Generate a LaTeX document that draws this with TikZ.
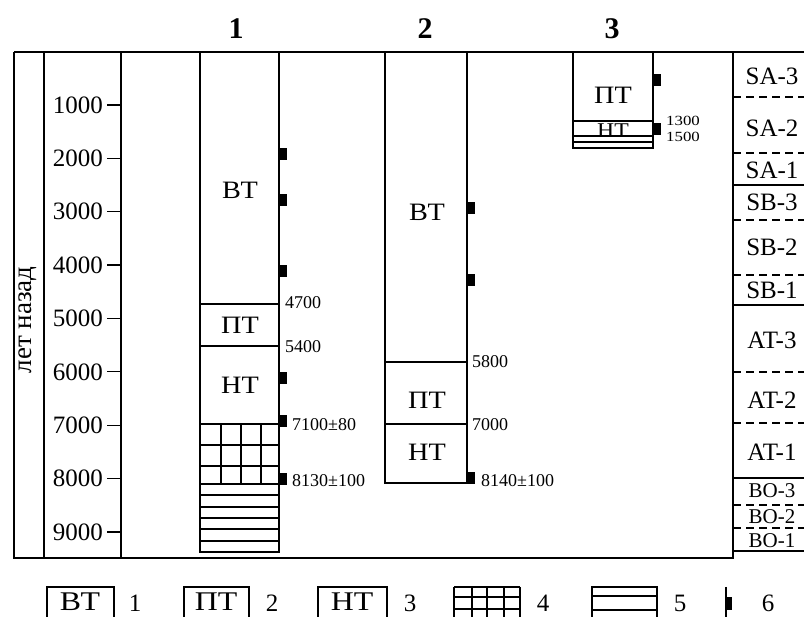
\documentclass[tikz,border=0pt]{standalone}
\usepackage{fontspec}
\usepackage{graphicx}
\setmainfont{Liberation Serif}
\newcommand{\widetxt}[1]{\scalebox{1.13}[1]{#1}}
\begin{document}
\begin{tikzpicture}[x=1pt,y=-1pt,
  ln/.style={line width=1.3pt},
  dsh/.style={line width=1.1pt, dash pattern=on 8pt off 5pt},
  big/.style={font=\fontsize{25}{27}\selectfont, inner sep=0pt},
  leg/.style={font=\fontsize{27}{29}\selectfont, inner sep=0pt},
  mid/.style={font=\fontsize{21}{23}\selectfont, inner sep=0pt},
  small/.style={font=\fontsize{18}{19}\selectfont, inner sep=0pt, anchor=west},
  tiny/.style={font=\fontsize{14}{15}\selectfont, inner sep=0pt, anchor=west},
  head/.style={font=\fontsize{30}{32}\selectfont\bfseries, inner sep=0pt},
  mk/.style={fill=black, draw=none}]
\useasboundingbox (0,0) rectangle (804,617);
\clip (0,0) rectangle (804,617);

% headings
\node[head] (h1) at (236,29) {1};
\node[head] (h2) at (425,29) {2};
\node[head] (h3) at (612,29) {3};

% frame
\draw[ln] (14,52) -- (804,52);
\draw[ln] (14,52) -- (14,558) -- (733,558) -- (733,52);
\draw[ln] (44,52) -- (44,558);
\draw[ln] (121,52) -- (121,558);
\node[font=\fontsize{27}{29}\selectfont, inner sep=0pt, rotate=90] (axis) at (28,320) {лет назад};

% ticks
\foreach \t [count=\i] in {1000,2000,...,9000} {
  \pgfmathsetmacro{\yy}{51.6+0.05338*\t}
  \draw[ln] (107,\yy) -- (121,\yy);
  \node[big, anchor=east] (tk\i) at (103,\yy) {\t};
}

% column 1
\draw[ln] (200,52) -- (200,552) -- (279,552) -- (279,52);
\foreach \y in {304,346,424,445,466,484,495,507,518,529,541} \draw[ln] (200,\y) -- (279,\y);
\foreach \x in {221,241,261} \draw[ln] (\x,424) -- (\x,484);
\foreach \y in {154,200,271,378,421,479} \fill[mk] (279,\y-6) rectangle (287,\y+6);
\node[big] (c1a) at (240,190) {\widetxt{ВТ}};
\node[big] (c1b) at (240,325) {\widetxt{ПТ}};
\node[big] (c1c) at (240,385) {\widetxt{НТ}};
\node[small] (l4700) at (285,303) {4700};
\node[small] (l5400) at (285,347) {5400};
\node[small] (l7100) at (292,425) {7100±80};
\node[small] (l8130) at (292,481) {8130±100};

% column 2
\draw[ln] (385,52) -- (385,483) -- (467,483) -- (467,52);
\foreach \y in {362,424} \draw[ln] (385,\y) -- (467,\y);
\foreach \y in {208,280,478} \fill[mk] (467,\y-6) rectangle (475,\y+6);
\node[big] (c2a) at (427,212) {\widetxt{ВТ}};
\node[big] (c2b) at (427,400) {\widetxt{ПТ}};
\node[big] (c2c) at (427,452) {\widetxt{НТ}};
\node[small] (l5800) at (472,362) {5800};
\node[small] (l7000) at (472,425) {7000};
\node[small] (l8140) at (481,481) {8140±100};

% column 3
\node[big] (c3a) at (613,95) {\widetxt{ПТ}};
\begin{scope}
\clip (573,121) rectangle (653,136);
\node[mid] (c3b) at (613,131) {\widetxt{НТ}};
\end{scope}
\draw[ln] (573,52) -- (573,148) -- (653,148) -- (653,52);
\foreach \y in {121,136,142} \draw[ln] (573,\y) -- (653,\y);
\foreach \y in {80,129} \fill[mk] (653,\y-6) rectangle (661,\y+6);
\node[tiny] (l1300) at (666,120.5) {\scalebox{1.2}[1]{1300}};
\node[tiny] (l1500) at (666,136.5) {\scalebox{1.2}[1]{1500}};

% right column
\foreach \y in {185,305,478,551} \draw[ln] (733,\y) -- (804,\y);
\foreach \y in {97,153,220,275,372,423,505,528} \draw[dsh] (733,\y) -- (804,\y);
\node[big] (sa3) at (772,76) {SA-3};
\node[big] (sa2) at (772,128) {SA-2};
\node[big] (sa1) at (772,170) {SA-1};
\node[big] (sb3) at (772,202) {SB-3};
\node[big] (sb2) at (772,247) {SB-2};
\node[big] (sb1) at (772,290) {SB-1};
\node[big] (at3) at (772,340) {AT-3};
\node[big] (at2) at (772,400) {AT-2};
\node[big] (at1) at (772,452) {AT-1};
\node[mid] (bo3) at (772,491) {BO-3};
\node[mid] (bo2) at (772,517) {BO-2};
\node[mid] (bo1) at (772,541) {BO-1};

% legend
\draw[ln] (47,630) -- (47,587) -- (114,587) -- (114,630);
\node[leg] (lg1) at (80,602) {\scalebox{1.18}[1]{ВТ}};
\node[big] (lg1n) at (135,603) {1};
\draw[ln] (184,630) -- (184,587) -- (249,587) -- (249,630);
\node[leg] (lg2) at (216,602) {\scalebox{1.18}[1]{ПТ}};
\node[big] (lg2n) at (272,603) {2};
\draw[ln] (318,630) -- (318,587) -- (387,587) -- (387,630);
\node[leg] (lg3) at (352,602) {\scalebox{1.18}[1]{НТ}};
\node[big] (lg3n) at (410,603) {3};
\foreach \x in {454,472,487,504,520} \draw[ln] (\x,587) -- (\x,630);
\foreach \y in {587,597,609} \draw[ln] (454,\y) -- (520,\y);
\node[big] (lg4n) at (543,603) {4};
\draw[ln] (592,630) -- (592,587) -- (657,587) -- (657,630);
\foreach \y in {596,610} \draw[ln] (592,\y) -- (657,\y);
\node[big] (lg5n) at (680,603) {5};
\draw[ln] (726,587) -- (726,630);
\fill[mk] (726,597) rectangle (732,610);
\node[big] (lg6n) at (768,603) {6};
\end{tikzpicture}
\end{document}
